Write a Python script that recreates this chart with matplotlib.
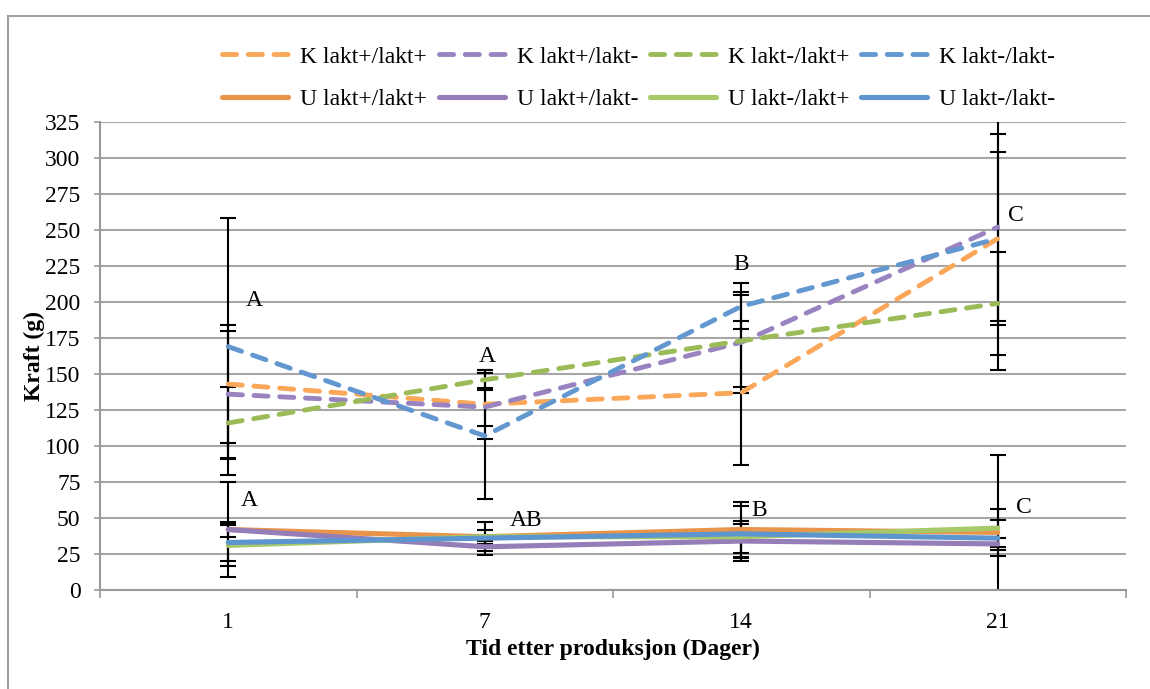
import matplotlib
matplotlib.use("Agg")
import matplotlib.pyplot as plt
from matplotlib.patches import Rectangle
import numpy as np

plt.rcParams['font.family'] = ['Liberation Serif', 'DejaVu Serif']

days = ['1', '7', '14', '21']

# K = dashed series, U = solid series (mean and standard deviation)
k_pp = [143, 129, 137, 244]
k_pp_sd = [41, 24, 50, 91]
k_pm = [136, 127, 172, 252]
k_pm_sd = [44, 13, 35, 65]
k_mp = [116, 146, 173, 199]
k_mp_sd = [25, 7, 32, 36]
k_mm = [169, 107, 197, 244]
k_mm_sd = [89, 44, 16, 60]

u_pp = [42, 37, 42, 40]
u_pp_sd = [33, 5, 19, 54]
u_pm = [42, 30, 34, 32]
u_pm_sd = [5, 6, 12, 4]
u_mp = [31, 37, 37, 43]
u_mp_sd = [14, 10, 11, 13]
u_mm = [33, 36, 39, 36]
u_mm_sd = [13, 2, 19, 12.5]

# letters (text, day index offset, y)
letters = [('A', 0.1, 201), ('A', 0.08, 62), ('A', 1.01, 162), ('AB', 1.16, 48),
           ('B', 2.0, 226), ('B', 2.07, 55), ('C', 3.07, 260), ('C', 3.1, 57)]

series = [
    ('K lakt+/lakt+', k_pp, k_pp_sd, '#FAA75A', True),
    ('K lakt+/lakt-', k_pm, k_pm_sd, '#9983C0', True),
    ('K lakt-/lakt+', k_mp, k_mp_sd, '#9BBB59', True),
    ('K lakt-/lakt-', k_mm, k_mm_sd, '#6397D0', True),
    ('U lakt+/lakt+', u_pp, u_pp_sd, '#E8944A', False),
    ('U lakt+/lakt-', u_pm, u_pm_sd, '#957DB8', False),
    ('U lakt-/lakt+', u_mp, u_mp_sd, '#A7C96A', False),
    ('U lakt-/lakt-', u_mm, u_mm_sd, '#5D95CF', False),
]

fs = 17

fig = plt.figure(figsize=(11.5, 6.89), dpi=100)
ax = fig.add_axes([100/1150, 1-590/689, 1026/1150, 468/689])

x = np.arange(len(days))
handles = []
for name, vals, sd, col, dashed in series:
    ax.errorbar(x, vals, yerr=sd, fmt='none', ecolor='black', elinewidth=1.5,
                capsize=6, capthick=1.5, zorder=2)
    if dashed:
        ln, = ax.plot(x, vals, color=col, lw=3.5, dashes=(2.9, 2.4),
                      dash_capstyle='round', label=name, zorder=3)
    else:
        ln, = ax.plot(x, vals, color=col, lw=3.7, solid_capstyle='round',
                      label=name, zorder=3)
    handles.append(ln)

for txt, xp, yp in letters:
    ax.text(xp, yp, txt, fontsize=fs, ha='center', va='center')

ax.set_xlim(-0.5, 3.5)
ax.set_ylim(0, 325)
ax.set_yticks(np.arange(0, 326, 25))
ax.set_xticks(x)
ax.set_xticklabels(days)
ax.set_xticks(np.arange(-0.5, 3.6, 1), minor=True)
ax.tick_params(axis='x', which='major', length=0, pad=16, labelsize=fs)
ax.tick_params(axis='x', which='minor', length=6, width=1.2, color='#999999')
ax.tick_params(axis='y', length=4, width=1.2, color='#999999', pad=10, labelsize=fs)
ax.grid(axis='y', color='#A6A6A6', lw=1.5)
ax.set_axisbelow(True)
for s in ['top', 'right']:
    ax.spines[s].set_visible(False)
for s in ['left', 'bottom']:
    ax.spines[s].set_color('#999999')
    ax.spines[s].set_linewidth(1.5)

ax.set_xlabel('Tid etter produksjon (Dager)', fontsize=fs, fontweight='bold', labelpad=4)
ax.set_ylabel('Kraft (g)', fontsize=fs, fontweight='bold', labelpad=0)

# legend fills column by column, so interleave to get K row on top and U row below
order = [0, 4, 1, 5, 2, 6, 3, 7]
fig.legend(handles=[handles[i] for i in order], ncol=4, loc='upper left',
           bbox_to_anchor=(222/1150, 1-46/689),
           frameon=False, fontsize=fs, handlelength=2.8, handletextpad=0.5,
           columnspacing=0.5, labelspacing=0.9, borderpad=0, borderaxespad=0)

fig.patches.append(Rectangle((8/1150, -0.1), 2, 1.1-16/689, transform=fig.transFigure,
                             fill=False, edgecolor='#A0A0A0', lw=1.5))

fig.savefig('out.png', dpi=100)
